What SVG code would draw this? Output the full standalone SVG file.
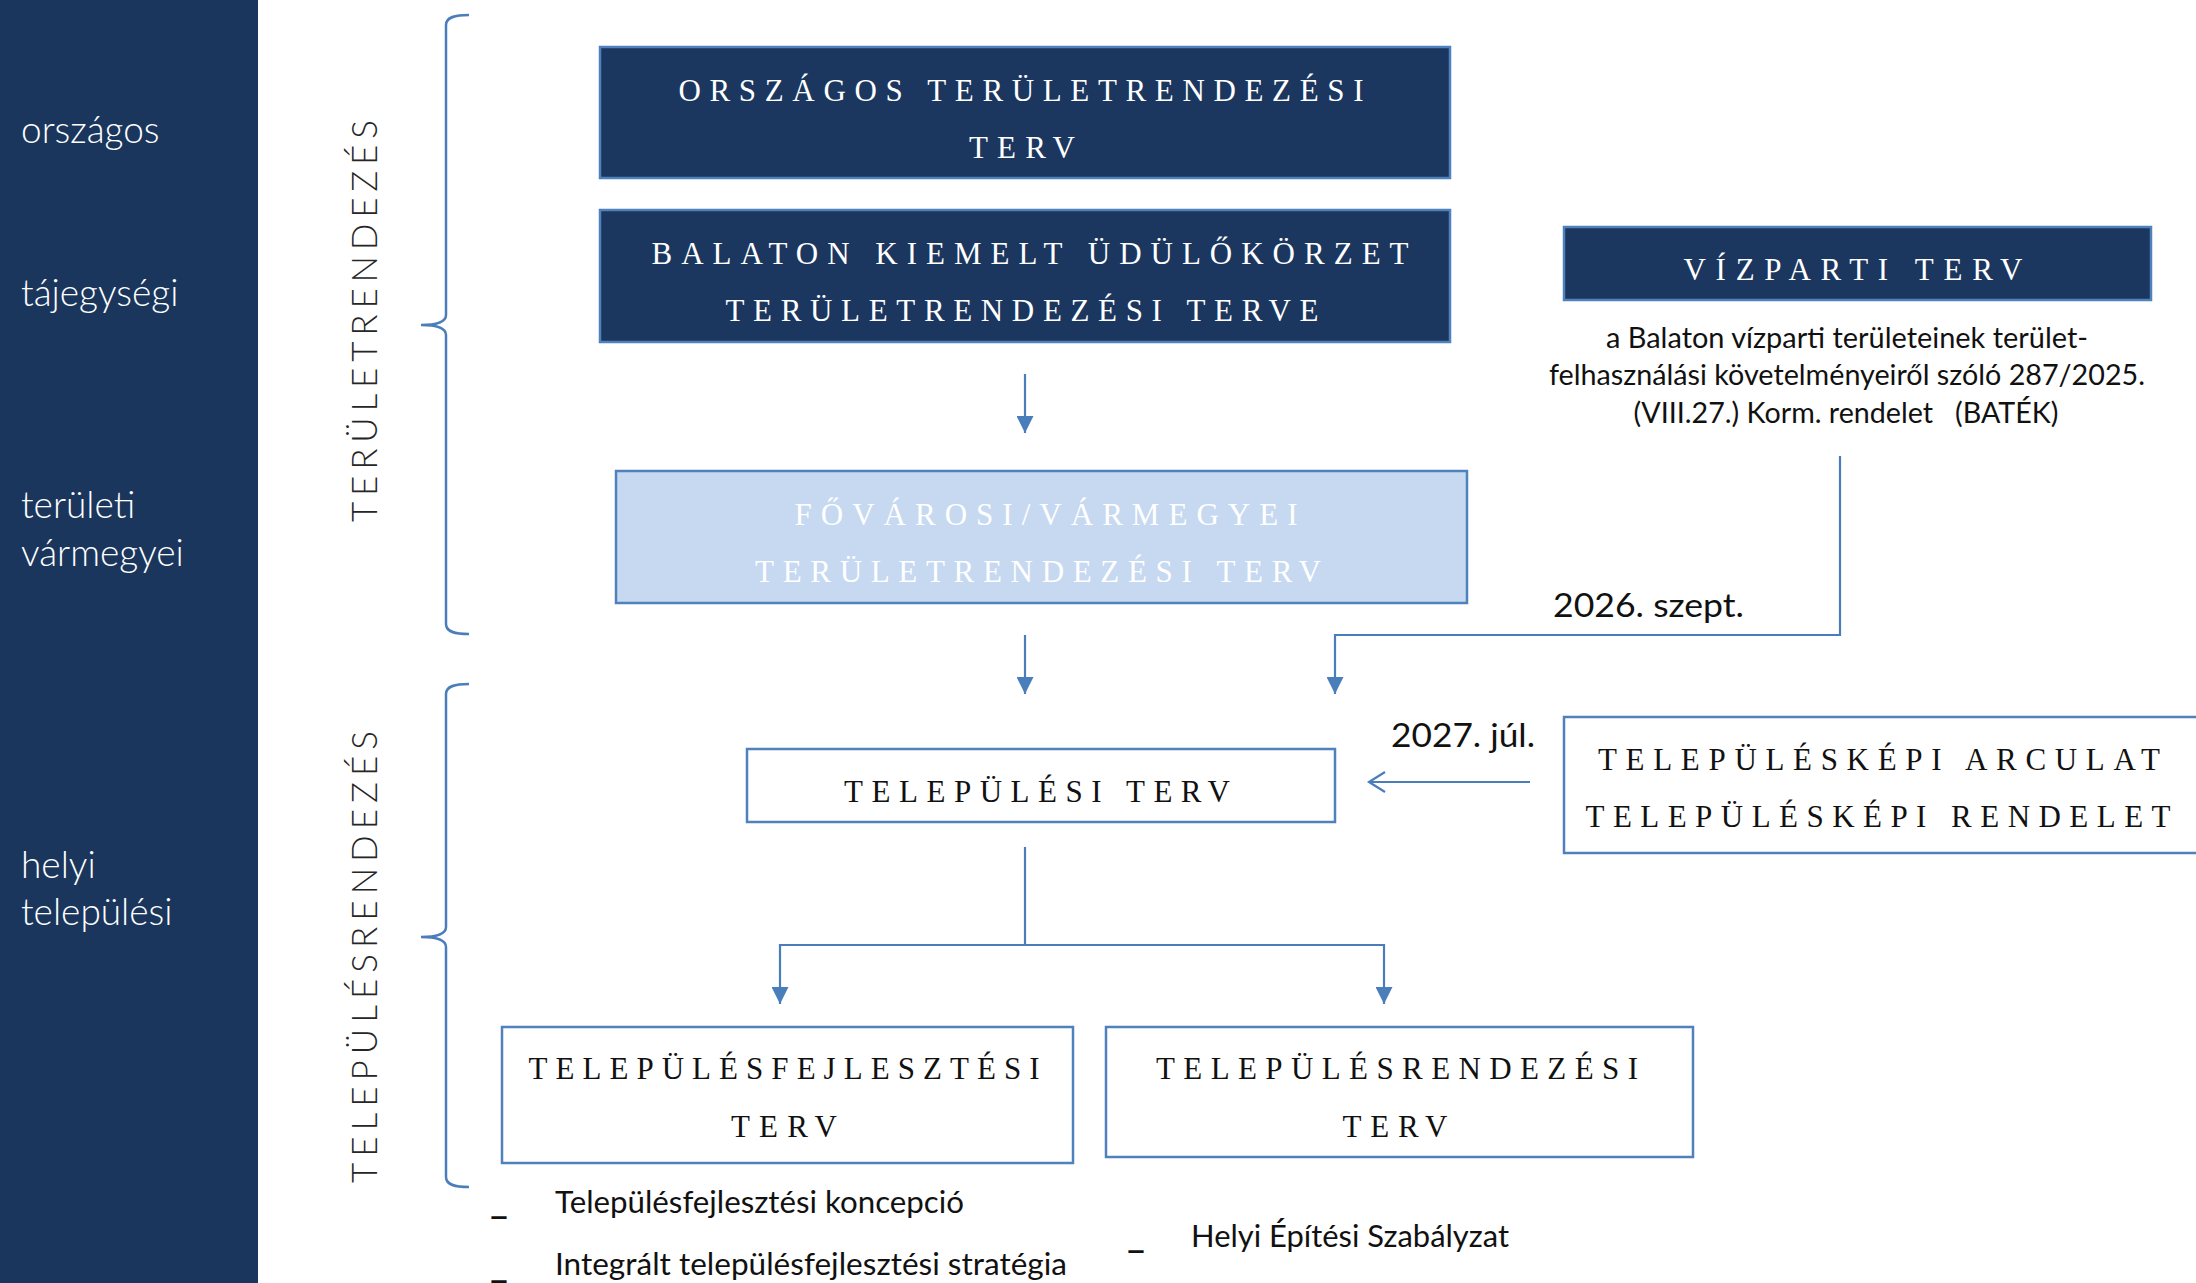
<svg xmlns="http://www.w3.org/2000/svg" width="2196" height="1283" viewBox="0 0 2196 1283">
<defs>
<style>
.side{font-family:Lato,"Open Sans",sans-serif;font-weight:300;font-size:37px;fill:#ffffff}
.vert{font-family:Lato,"Open Sans",sans-serif;font-weight:300;font-size:35px;fill:#262626}
.brace{fill:none;stroke:#4a7ebb;stroke-width:2.5}
.dark{fill:#1b375f;stroke:#4f81bd;stroke-width:2.5}
.light{fill:#c6d9f1;stroke:#4f81bd;stroke-width:2.5}
.white{fill:#ffffff;stroke:#4f81bd;stroke-width:2.5}
.cap{font-family:"Liberation Serif","DejaVu Serif",serif;font-size:31px;text-anchor:middle}
.cw{fill:#ffffff}
.cb{fill:#111111}
.sans{font-family:Lato,"Open Sans",sans-serif;font-size:29px;fill:#111111}
.dash{font-family:Lato,"Open Sans",sans-serif;font-size:34px;font-weight:700;fill:#111111}
.conn{fill:none;stroke:#4a7ebb;stroke-width:2.2}
</style>
<marker id="arr" viewBox="0 0 17 17" refX="17" refY="8.5" markerWidth="17" markerHeight="17" markerUnits="userSpaceOnUse" orient="auto">
<path d="M0,0 L17,8.5 L0,17 z" fill="#4a7ebb"/>
</marker>
</defs>
<rect width="2196" height="1283" fill="#ffffff"/>
<g id="sidebar">
<rect x="0" y="0" width="258" height="1283" fill="#1b365d"/>
<text class="side" x="21" y="143">országos</text>
<text class="side" x="21" y="306">tájegységi</text>
<text class="side" x="21" y="518">területi</text>
<text class="side" x="21" y="566">vármegyei</text>
<text class="side" x="21" y="878">helyi</text>
<text class="side" x="21" y="925">települési</text>
</g>
<g id="brace-teruletrendezes">
<path class="brace" d="M469,15 C455,15 446,17 446,25 L446,315 C446,322 438,325 421,325 C438,325 446,328 446,335 L446,624 C446,632 455,634 469,634"/>
<text class="vert" x="377" y="522" transform="rotate(-90 377 522)" textLength="402" lengthAdjust="spacing">TERÜLETRENDEZÉS</text>
</g>
<g id="brace-telepulesrendezes">
<path class="brace" d="M469,684 C455,684 446,686 446,694 L446,927 C446,934 438,937 421,937 C438,937 446,940 446,947 L446,1177 C446,1185 455,1187 469,1187"/>
<text class="vert" x="377" y="1183" transform="rotate(-90 377 1183)" textLength="452" lengthAdjust="spacing">TELEPÜLÉSRENDEZÉS</text>
</g>
<g id="connectors">
<line class="conn" x1="1025" y1="374" x2="1025" y2="433" marker-end="url(#arr)"/>
<line class="conn" x1="1025" y1="635" x2="1025" y2="694" marker-end="url(#arr)"/>
<path class="conn" d="M1840,456 V635 H1335 V694" marker-end="url(#arr)"/>
<line class="conn" x1="1530" y1="782" x2="1370" y2="782"/>
<path class="conn" d="M1385,772 L1369,782 L1385,792"/>
<path class="conn" d="M1025,847 V945"/>
<path class="conn" d="M1025,945 H780 V1004" marker-end="url(#arr)"/>
<path class="conn" d="M1025,945 H1384 V1004" marker-end="url(#arr)"/>
</g>
<g id="node-orszagos">
<rect class="dark" x="600" y="47" width="850" height="131"/>
<text class="cap cw" x="1021" y="101" textLength="685" lengthAdjust="spacing">ORSZÁGOS TERÜLETRENDEZÉSI</text>
<text class="cap cw" x="1022" y="158" textLength="106" lengthAdjust="spacing">TERV</text>
</g>
<g id="node-balaton">
<rect class="dark" x="600" y="210" width="850" height="132"/>
<text class="cap cw" x="1030" y="264" textLength="757" lengthAdjust="spacing">BALATON KIEMELT ÜDÜLŐKÖRZET</text>
<text class="cap cw" x="1022" y="321" textLength="593" lengthAdjust="spacing">TERÜLETRENDEZÉSI TERVE</text>
</g>
<g id="node-fovarosi">
<rect class="light" x="616" y="471" width="851" height="132"/>
<text class="cap cw" x="1046" y="525" textLength="503" lengthAdjust="spacing">FŐVÁROSI/VÁRMEGYEI</text>
<text class="cap cw" x="1038" y="582" textLength="566" lengthAdjust="spacing">TERÜLETRENDEZÉSI TERV</text>
</g>
<g id="node-vizparti">
<rect class="dark" x="1564" y="227" width="587" height="73"/>
<text class="cap cw" x="1853" y="280" textLength="339" lengthAdjust="spacing">VÍZPARTI TERV</text>
<text class="sans" x="1847" y="348" text-anchor="middle" textLength="482" lengthAdjust="spacingAndGlyphs">a Balaton vízparti területeinek terület-</text>
<text class="sans" x="1847" y="385" text-anchor="middle" textLength="596" lengthAdjust="spacingAndGlyphs">felhasználási követelményeiről szóló 287/2025.</text>
<text class="sans" x="1846" y="423" text-anchor="middle" textLength="425" lengthAdjust="spacingAndGlyphs" xml:space="preserve" style="white-space:pre">(VIII.27.) Korm. rendelet   (BATÉK)</text>
</g>
<g id="label-2026">
<text class="sans" x="1553" y="617" style="font-size:33px" textLength="191" lengthAdjust="spacingAndGlyphs">2026. szept.</text>
</g>
<g id="label-2027">
<text class="sans" x="1391" y="747" style="font-size:32px" textLength="144" lengthAdjust="spacingAndGlyphs">2027. júl.</text>
</g>
<g id="node-telepulesi">
<rect class="white" x="747" y="749" width="588" height="73"/>
<text class="cap cb" x="1037" y="802" textLength="386" lengthAdjust="spacing">TELEPÜLÉSI TERV</text>
</g>
<g id="node-telepuleskep">
<rect class="white" x="1564" y="717" width="650" height="136"/>
<text class="cap cb" x="1879" y="770" textLength="562" lengthAdjust="spacing">TELEPÜLÉSKÉPI ARCULAT</text>
<text class="cap cb" x="1878" y="827" textLength="585" lengthAdjust="spacing">TELEPÜLÉSKÉPI RENDELET</text>
</g>
<g id="node-fejlesztesi">
<rect class="white" x="502" y="1027" width="571" height="136"/>
<text class="cap cb" x="784" y="1079" textLength="511" lengthAdjust="spacing">TELEPÜLÉSFEJLESZTÉSI</text>
<text class="cap cb" x="784" y="1137" textLength="106" lengthAdjust="spacing">TERV</text>
</g>
<g id="node-rendezesi">
<rect class="white" x="1106" y="1027" width="587" height="130"/>
<text class="cap cb" x="1397" y="1079" textLength="482" lengthAdjust="spacing">TELEPÜLÉSRENDEZÉSI</text>
<text class="cap cb" x="1395" y="1137" textLength="105" lengthAdjust="spacing">TERV</text>
</g>
<g id="lists">
<text class="dash" x="490" y="1214" textLength="18" lengthAdjust="spacingAndGlyphs">_</text>
<text class="sans" x="555" y="1213" style="font-size:30px" textLength="409" lengthAdjust="spacingAndGlyphs">Településfejlesztési koncepció</text>
<text class="dash" x="490" y="1278" textLength="18" lengthAdjust="spacingAndGlyphs">_</text>
<text class="sans" x="555" y="1275" style="font-size:30px" textLength="512" lengthAdjust="spacingAndGlyphs">Integrált településfejlesztési stratégia</text>
<text class="dash" x="1127" y="1248" textLength="18" lengthAdjust="spacingAndGlyphs">_</text>
<text class="sans" x="1191" y="1247" style="font-size:30px" textLength="318" lengthAdjust="spacingAndGlyphs">Helyi Építési Szabályzat</text>
</g>
</svg>
